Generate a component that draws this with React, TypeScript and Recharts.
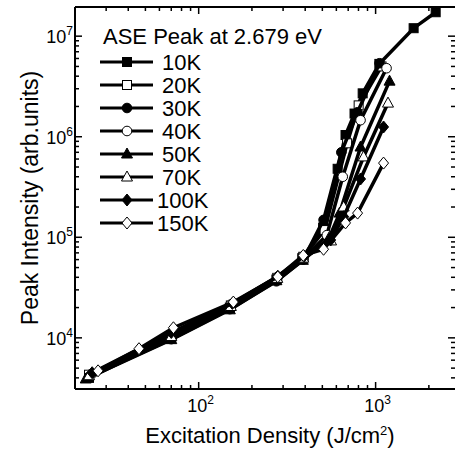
import React from 'react';
import { ScatterChart, Scatter, XAxis, YAxis } from 'recharts';

const FONT = '"Liberation Sans", Arial, Helvetica, sans-serif';

// excitation density (J/cm2), peak intensity (arb. units)
const d10K = [[24, 4000], [70, 10100], [150, 20000], [275, 38000], [385, 62000], [505, 125000], [610, 480000], [676, 1040000], [760, 1700000], [845, 2700000], [1050, 5300000], [1640, 12000000], [2185, 17300000]];
const d20K = [[24, 4300], [70, 10600], [152, 21000], [278, 39500], [390, 64000], [515, 118000], [690, 860000], [802, 2050000], [1080, 5000000]];
const d30K = [[24, 4100], [70, 9700], [150, 19300], [275, 36500], [390, 60000], [508, 149000], [640, 700000], [790, 1750000], [1053, 5380000]];
const d40K = [[25, 4400], [70, 10900], [152, 21500], [280, 40500], [392, 62000], [530, 105000], [652, 400000], [822, 1460000], [1153, 4800000]];
const d50K = [[23, 3900], [70, 9600], [150, 19000], [275, 37000], [388, 59000], [545, 98000], [626, 174000], [822, 790000], [1199, 3570000]];
const d70K = [[24, 4200], [70, 10300], [152, 20500], [278, 39000], [390, 62000], [560, 92000], [660, 200000], [855, 630000], [1175, 2160000]];
const d100K = [[25, 4500], [70, 11300], [155, 22000], [280, 41000], [395, 65000], [557, 94000], [660, 160000], [822, 380000], [1109, 1250000]];
const d150K = [[27, 4700], [46, 7800], [72, 12600], [157, 22700], [280, 40400], [390, 66000], [508, 76000], [676, 139000], [791, 174000], [1109, 547000]];

const seriesNames = ['10K', '20K', '30K', '40K', '50K', '70K', '100K', '150K'];
const seriesData = [d10K, d20K, d30K, d40K, d50K, d70K, d100K, d150K];
const seriesMarkers = ['square', 'square', 'circle', 'circle', 'triangle', 'triangle', 'diamond', 'diamond'];
const seriesFilled = [true, false, true, false, true, false, true, false];

const xTicks = [30, 40, 50, 60, 70, 80, 90, 100, 200, 300, 400, 500, 600, 700, 800, 900, 1000, 2000];
const yTicks = [4000, 5000, 6000, 7000, 8000, 9000, 10000, 20000, 30000, 40000, 50000, 60000, 70000, 80000, 90000,
  100000, 200000, 300000, 400000, 500000, 600000, 700000, 800000, 900000,
  1000000, 2000000, 3000000, 4000000, 5000000, 6000000, 7000000, 8000000, 9000000, 10000000];

const isDecade = (v: number) => Math.abs(Math.log10(v) - Math.round(Math.log10(v))) < 1e-9;

function Marker({ cx, cy, kind, filled }: { cx: number; cy: number; kind: string; filled: boolean }) {
  const fill = filled ? '#000' : '#fff';
  const common = { fill, stroke: '#000', strokeWidth: 1 };
  if (kind === 'square') return <rect x={cx - 4.5} y={cy - 4.5} width={9} height={9} {...common} />;
  if (kind === 'circle') return <circle cx={cx} cy={cy} r={4.8} {...common} />;
  if (kind === 'triangle')
    return <polygon points={`${cx},${cy - 6} ${cx + 5.5},${cy + 4} ${cx - 5.5},${cy + 4}`} {...common} />;
  return <polygon points={`${cx},${cy - 6} ${cx + 5},${cy} ${cx},${cy + 6} ${cx - 5},${cy}`} {...common} />;
}

function Pow({ exp, ...rest }: any) {
  return (
    <text fontFamily={FONT} fill="#000" {...rest}>
      <tspan fontSize={18}>10</tspan>
      <tspan fontSize={12} dy={-8}>{exp}</tspan>
    </text>
  );
}

const BottomTick = ({ x, y, payload }: any) => {
  const v = payload.value;
  const major = isDecade(v);
  return (
    <g>
      <line x1={x} y1={y} x2={x} y2={y - (major ? 7 : 4)} stroke="#000" strokeWidth={1.5} />
      {major && <Pow x={x + 2} y={y + 23} textAnchor="middle" exp={Math.round(Math.log10(v))} />}
    </g>
  );
};

const TopTick = ({ x, y, payload }: any) => {
  const major = isDecade(payload.value);
  return <line x1={x} y1={y} x2={x} y2={y + (major ? 7 : 4)} stroke="#000" strokeWidth={1.5} />;
};

const LeftTick = ({ x, y, payload }: any) => {
  const v = payload.value;
  const major = isDecade(v);
  return (
    <g>
      <line x1={x} y1={y} x2={x + (major ? 7 : 4)} y2={y} stroke="#000" strokeWidth={1.5} />
      {major && <Pow x={x - 2} y={y + 7} textAnchor="end" exp={Math.round(Math.log10(v))} />}
    </g>
  );
};

const RightTick = ({ x, y, payload }: any) => {
  const major = isDecade(payload.value);
  return <line x1={x} y1={y} x2={x - (major ? 7 : 4)} y2={y} stroke="#000" strokeWidth={1.5} />;
};

export default function App() {
  const xDomain = [20, 2810];
  const yDomain = [3100, 19500000];

  return (
    <div style={{ position: 'fixed', left: 0, top: 0, width: 456, height: 451, background: '#fff' }}>
      <ScatterChart width={456} height={451} margin={{ top: 6, right: 0, bottom: 0, left: 0 }}>
        <XAxis
          dataKey="x"
          type="number"
          scale="log"
          domain={xDomain}
          allowDataOverflow
          ticks={xTicks}
          tickSize={0}
          tickMargin={0}
          tickLine={false}
          height={62}
          axisLine={{ stroke: '#000', strokeWidth: 2 }}
          tick={<BottomTick />}
          interval={0}
        />
        <XAxis
          xAxisId="top"
          orientation="top"
          dataKey="x"
          type="number"
          scale="log"
          domain={xDomain}
          allowDataOverflow
          ticks={xTicks}
          tickSize={0}
          tickMargin={0}
          tickLine={false}
          height={1}
          axisLine={{ stroke: '#000', strokeWidth: 2 }}
          tick={<TopTick />}
          interval={0}
        />
        <YAxis
          dataKey="y"
          type="number"
          scale="log"
          domain={yDomain}
          allowDataOverflow
          ticks={yTicks}
          tickSize={0}
          tickMargin={0}
          tickLine={false}
          width={75}
          axisLine={{ stroke: '#000', strokeWidth: 2 }}
          tick={<LeftTick />}
          interval={0}
        />
        <YAxis
          yAxisId="right"
          orientation="right"
          dataKey="y"
          type="number"
          scale="log"
          domain={yDomain}
          allowDataOverflow
          ticks={yTicks}
          tickSize={0}
          tickMargin={0}
          tickLine={false}
          width={1}
          axisLine={false}
          tick={<RightTick />}
          interval={0}
        />
        {/* invisible copy so the frame axes (top / right) get data and render */}
        <Scatter
          xAxisId="top"
          yAxisId="right"
          data={d10K.map(([x, y]) => ({ x, y }))}
          isAnimationActive={false}
          shape={() => <g />}
        />
        {seriesData.map((pts, i) => (
          <Scatter
            key={seriesNames[i]}
            name={seriesNames[i]}
            data={pts.map(([x, y]) => ({ x, y }))}
            line={{ stroke: '#000', strokeWidth: 3.5 }}
            lineType="joint"
            fill="#000"
            isAnimationActive={false}
            shape={(p: any) => <Marker cx={p.cx} cy={p.cy} kind={seriesMarkers[i]} filled={seriesFilled[i]} />}
          />
        ))}
      </ScatterChart>

      <svg width={456} height={451} style={{ position: 'absolute', left: 0, top: 0, pointerEvents: 'none' }}>
        <text x={103} y={44} fontFamily={FONT} fontSize={22} fill="#000">ASE Peak at 2.679 eV</text>
        {seriesNames.map((name, i) => {
          const cy = 62 + i * 23;
          return (
            <g key={name}>
              <line x1={100} y1={cy} x2={153} y2={cy} stroke="#000" strokeWidth={3} />
              <Marker cx={127} cy={cy} kind={seriesMarkers[i]} filled={seriesFilled[i]} />
              <text x={name.length > 3 ? 157 : 162} y={cy + 8} fontFamily={FONT} fontSize={22} fill="#000">{name}</text>
            </g>
          );
        })}
        <text
          x={30}
          y={198}
          transform="rotate(-90 30 198)"
          textAnchor="middle"
          dominantBaseline="central"
          fontFamily={FONT}
          fontSize={23}
          fill="#000"
        >
          Peak Intensity (arb.units)
        </text>
        <text x={270} y={443} textAnchor="middle" fontFamily={FONT} fontSize={22} fill="#000">
          Excitation Density (J/cm<tspan fontSize={13} dy={-8}>2</tspan><tspan dy={8}>)</tspan>
        </text>
      </svg>
    </div>
  );
}
